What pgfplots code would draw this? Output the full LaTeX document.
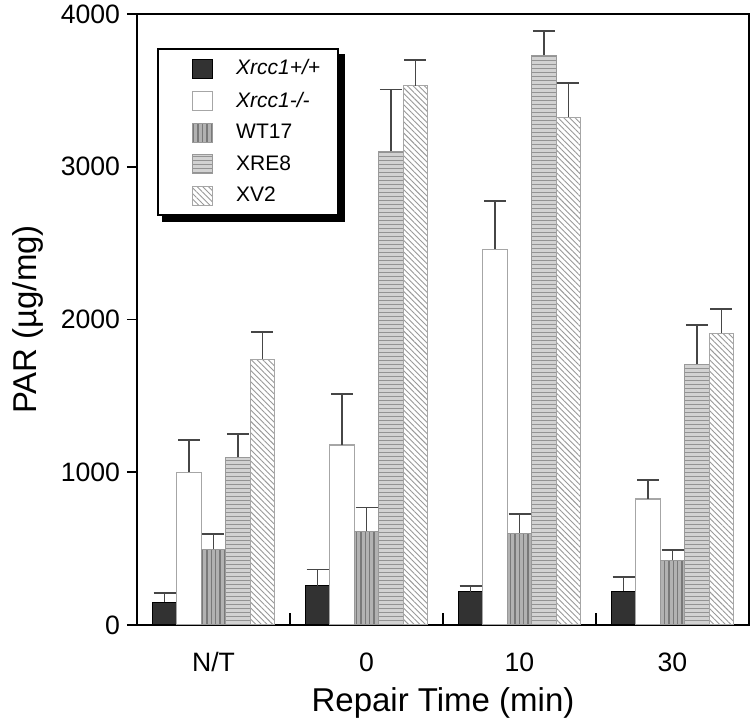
\documentclass[border=0pt]{standalone}
\usepackage{pgfplots}
\pgfplotsset{compat=1.18}
\usepackage{pgfplotstable}
\usepackage{fontspec}
\setmainfont{Liberation Sans}
\usetikzlibrary{patterns.meta,backgrounds}

\definecolor{barblack}{RGB}{50,50,50}
\definecolor{errgray}{RGB}{70,70,70}

% x: 0=N/T, 1=0 min, 2=10 min, 3=30 min ; y = PAR, e = upper error
\pgfplotstableread{
x  y     e
0  150   60
1  257   105
2  218   37
3  222   93
}\wtwt
\pgfplotstableread{
x  y     e
0  1000  210
1  1178  336
2  2460  315
3  825   124
}\ko
\pgfplotstableread{
x  y     e
0  497   100
1  615   153
2  602   125
3  425   66
}\wtseventeen
\pgfplotstableread{
x  y     e
0  1097  153
1  3100  405
2  3730  157
3  1708  255
}\xre
\pgfplotstableread{
x  y     e
0  1741  177
1  3530  170
2  3325  222
3  1911  159
}\xv

\begin{document}
\begin{tikzpicture}
\begin{axis}[
  name=ax,
  scale only axis,
  width=306pt, height=305.5pt,
  xmin=-0.5, xmax=3.5,
  ymin=0, ymax=4000,
  ytick={0,1000,2000,3000,4000},
  xtick={0,1,2,3},
  xticklabels={N/T,0,10,30},
  minor xtick={0.5,1.5,2.5},
  xtick pos=bottom, ytick pos=left,
  tick align=outside,
  major tick length=5pt,
  minor tick length=6pt,
  major x tick style={draw=none},
  minor x tick style={yshift=6pt, line width=1pt, black},
  major y tick style={line width=0.8pt, black},
  axis line style={line width=1pt},
  /pgf/number format/assume math mode=true,
  scaled y ticks=false,
  yticklabel style={/pgf/number format/1000 sep={}},
  tick label style={font=\fontsize{13.3}{15}\selectfont},
  xticklabel style={anchor=base, yshift=-18.5pt},
  label style={font=\fontsize{16.5}{19}\selectfont},
  xlabel={Repair Time (min)},
  ylabel={PAR (µg/mg)},
  xlabel style={at={(axis description cs:0.5,-0.128)}, anchor=center},
  ylabel style={at={(axis description cs:-0.178,0.5)}, anchor=center},
  ybar, bar width=0.16,
  legend image code/.code={%
    \path (-10pt,0pt);
    \draw[#1] (0pt,-4.8pt) rectangle (10pt,4.8pt);},
  legend cell align=left,
  legend style={name=leg, at={(axis description cs:0.0327,0.944)}, anchor=north west,
    draw=black, line width=1pt, fill=white,
    font=\fontsize{10.5}{12}\selectfont,
    inner xsep=7pt, inner ysep=3.2pt, row sep=3pt,
    /tikz/every odd column/.append style={column sep=9.5pt},
    nodes={line width=0.4pt}},
  error bars/error bar style={line width=0.8pt, errgray},
  error bars/error mark options={rotate=90, mark size=5.5pt, line width=0.8pt, errgray},
]
\addplot[bar shift=-0.32, fill=barblack, draw=black, line width=0.5pt,
  error bars/.cd, y dir=plus, y explicit]
  table[x=x, y=y, y error=e] {\wtwt};
\addlegendentry{\textit{Xrcc1+/+}}
\addplot[bar shift=-0.16, fill=white, draw=gray!70, line width=0.6pt,
  error bars/.cd, y dir=plus, y explicit]
  table[x=x, y=y, y error=e] {\ko};
\addlegendentry{\textit{Xrcc1-/-}}
\addplot[bar shift=0, fill=gray!60, draw=gray!80, line width=0.5pt,
  postaction={pattern={Lines[angle=90, distance=2.2pt, line width=0.7pt]}, pattern color=gray!95!black},
  error bars/.cd, y dir=plus, y explicit]
  table[x=x, y=y, y error=e] {\wtseventeen};
\addlegendentry{WT17}
\addplot[bar shift=0.16, fill=gray!35, draw=gray!80, line width=0.5pt,
  postaction={pattern={Lines[angle=0, distance=2pt, line width=0.5pt]}, pattern color=gray!85},
  error bars/.cd, y dir=plus, y explicit]
  table[x=x, y=y, y error=e] {\xre};
\addlegendentry{XRE8}
\addplot[bar shift=0.32, fill=white, draw=gray!70, line width=0.5pt,
  postaction={pattern={Lines[angle=-45, distance=2pt, line width=0.45pt]}, pattern color=gray!80},
  error bars/.cd, y dir=plus, y explicit]
  table[x=x, y=y, y error=e] {\xv};
\addlegendentry{XV2}
\end{axis}
% legend drop shadow, behind the legend box
\begin{scope}[on background layer]
  \fill[black] ([shift={(2.7pt,-2.7pt)}]leg.south west) rectangle ([shift={(2.7pt,-2.7pt)}]leg.north east);
\end{scope}
\pgfresetboundingbox
\path[use as bounding box] ([xshift=-68.5pt, yshift=-50pt]ax.south west) rectangle ([xshift=0.5pt, yshift=7pt]ax.north east);
\end{tikzpicture}
\end{document}
